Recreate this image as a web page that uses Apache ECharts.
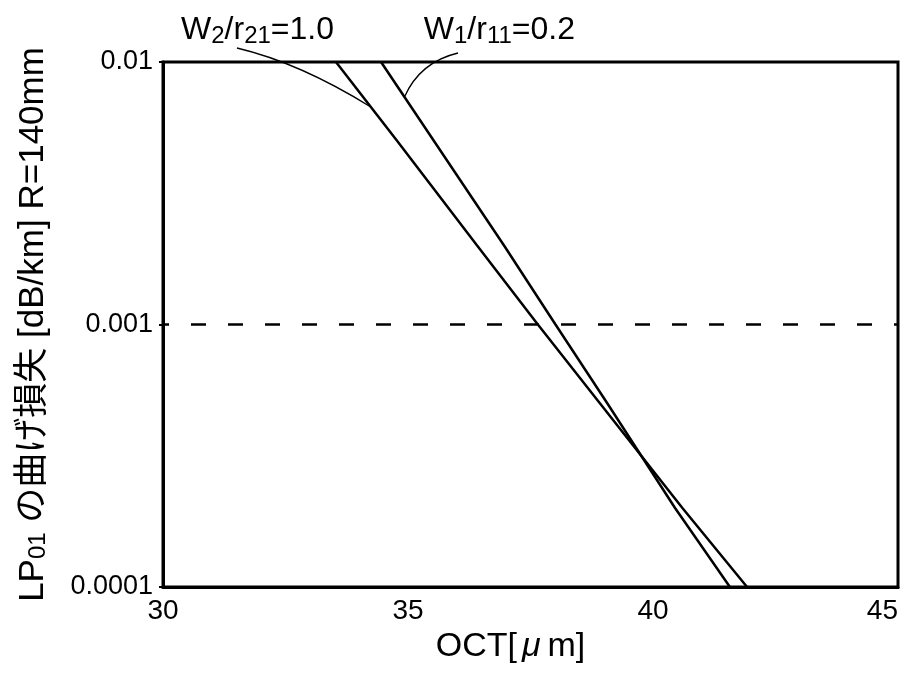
<!DOCTYPE html>
<html>
<head>
<meta charset="utf-8">
<script src="https://cdn.jsdelivr.net/npm/echarts@6/dist/echarts.min.js"></script>
<style>
  html, body { margin: 0; padding: 0; background: #fff; }
  #chart { width: 918px; height: 689px; }
</style>
</head>
<body>
<div id="chart"></div>
<script>
// OCT [μm] vs LP01 bending loss at R = 140 mm for two profile designs
const octTicks = [30, 35, 40, 45];
const lossTicks = [0.0001, 0.001, 0.01];
const lossLevels = [0.01, 0.005, 0.002, 0.001, 0.0005, 0.0002, 0.0001];
const octW2 = [33.53, 34.78, 36.41, 37.65, 38.92, 40.60, 41.92]; // W2/r21 = 1.0
const octW1 = [34.45, 35.53, 36.96, 38.01, 39.07, 40.45, 41.57]; // W1/r11 = 0.2
const refLoss = 0.001;

const LATIN = "'Liberation Sans', Arial, 'Noto Sans CJK JP', sans-serif";

function pairs(xs, ys) { return xs.map((x, i) => [x, ys[i]]); }

// position along a curve (log-interpolated in loss) for a given loss value
function octAt(octs, loss) {
  const L = Math.log10(loss);
  for (let i = 0; i < lossLevels.length - 1; i++) {
    const a = Math.log10(lossLevels[i]), b = Math.log10(lossLevels[i + 1]);
    if (L <= a && L >= b) {
      const t = (L - a) / (b - a);
      return octs[i] + t * (octs[i + 1] - octs[i]);
    }
  }
  return octs[0];
}

function fmtLoss(v) {
  const e = Math.round(Math.log10(v));
  const hit = lossTicks.find(t => Math.abs(Math.log10(t) - e) < 1e-6);
  return hit === undefined ? '' : '0.' + '0'.repeat(-e - 1) + '1';
}

const chart = echarts.init(document.getElementById('chart'), null, { renderer: 'canvas' });

const lineStyle = { color: '#000', width: 2.5 };

chart.setOption({
  animation: false,
  backgroundColor: '#fff',
  grid: { left: 163, right: 20, top: 62, bottom: 102, show: true, borderColor: '#000', borderWidth: 3, backgroundColor: 'transparent' },
  xAxis: {
    type: 'value', min: octTicks[0], max: octTicks[octTicks.length - 1], interval: 5,
    axisLine: { show: true, lineStyle: { color: '#000', width: 3 } },
    axisTick: { show: false },
    splitLine: { show: false },
    axisLabel: { color: '#000', fontSize: 28, fontFamily: LATIN, margin: 10, alignMaxLabel: 'right',
      formatter: v => octTicks.includes(v) ? String(v) : '' },
    name: '{a|OCT[}{u|μ}{a|m]}', nameLocation: 'middle', nameGap: 27,
    nameTextStyle: {
      color: '#000', padding: [0, 40, 0, 0],
      rich: {
        a: { fontSize: 34, fontFamily: LATIN, color: '#000' },
        u: { fontSize: 34, fontFamily: LATIN, color: '#000', fontStyle: 'italic', padding: [0, 7, 0, 5] }
      }
    }
  },
  yAxis: {
    type: 'log', logBase: 10, min: lossTicks[0], max: lossTicks[lossTicks.length - 1],
    axisLine: { show: true, lineStyle: { color: '#000', width: 3 } },
    axisTick: { show: true, length: 4, lineStyle: { color: '#000', width: 2 } },
    minorTick: { show: false },
    splitLine: { show: false },
    axisLabel: { color: '#000', fontSize: 27, fontFamily: LATIN, margin: 10, formatter: fmtLoss },
    name: '{m|LP}{s|01}{m| の曲げ損失 [dB/km] R=140mm}',
    nameLocation: 'middle', nameRotate: 90, nameGap: 112,
    nameTextStyle: {
      color: '#000',
      rich: {
        m: { fontSize: 35, fontFamily: LATIN, color: '#000' },
        s: { fontSize: 24, fontFamily: LATIN, color: '#000', padding: [10, 0, 0, 0] }
      }
    }
  },
  series: [
    {
      name: 'W2/r21=1.0', type: 'line', data: pairs(octW2, lossLevels),
      showSymbol: false, lineStyle: lineStyle, z: 3
    },
    {
      name: 'W1/r11=0.2', type: 'line', data: pairs(octW1, lossLevels),
      showSymbol: false, lineStyle: lineStyle, z: 3
    },
    {
      name: 'reference', type: 'line',
      data: [[octTicks[0], refLoss], [octTicks[octTicks.length - 1], refLoss]],
      showSymbol: false,
      lineStyle: { color: '#000', width: 2.5, type: [15, 22], dashOffset: 9 }, z: 2
    }
  ]
});

// curve labels with leader lines
const richLabel = {
  m: { fontSize: 32, fontFamily: LATIN, color: '#000' },
  s: { fontSize: 24, fontFamily: LATIN, color: '#000', padding: [12, 0, 0, 0] }
};

const w2Loss = 0.00674, w1Loss = 0.00736;
const w2End = chart.convertToPixel({ gridIndex: 0 }, [octAt(octW2, w2Loss), w2Loss]);
const w1End = chart.convertToPixel({ gridIndex: 0 }, [octAt(octW1, w1Loss), w1Loss]);

chart.setOption({
  graphic: [
    {
      type: 'text', x: 334, y: 12, z: 10,
      style: { text: '{m|W}{s|2}{m|/r}{s|21}{m|=1.0}', rich: richLabel, align: 'right' }
    },
    {
      type: 'text', x: 575, y: 12, z: 10,
      style: { text: '{m|W}{s|1}{m|/r}{s|11}{m|=0.2}', rich: richLabel, align: 'right' }
    },
    {
      type: 'bezierCurve', z: 10,
      shape: { x1: 237, y1: 48, cpx1: 300, cpy1: 63, x2: w2End[0], y2: w2End[1] },
      style: { stroke: '#000', lineWidth: 1.3, fill: null }
    },
    {
      type: 'bezierCurve', z: 10,
      shape: { x1: 458, y1: 53, cpx1: 420, cpy1: 62, x2: w1End[0], y2: w1End[1] },
      style: { stroke: '#000', lineWidth: 1.3, fill: null }
    }
  ]
});
</script>
</body>
</html>
